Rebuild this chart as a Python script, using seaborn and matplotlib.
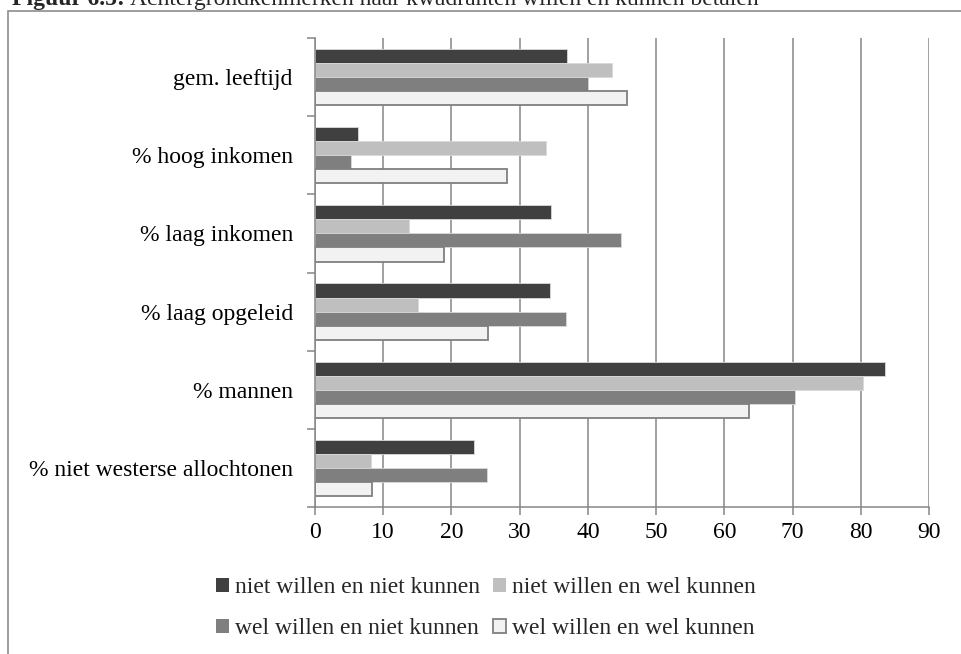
import pandas as pd
import matplotlib.pyplot as plt
import matplotlib.patches as mpatches
from matplotlib.ticker import FixedLocator
import seaborn as sns

# Data
kenmerken = ['gem. leeftijd', '% hoog inkomen', '% laag inkomen',
             '% laag opgeleid', '% mannen', '% niet westerse allochtonen']
groepen = ['niet willen en niet kunnen', 'niet willen en wel kunnen',
           'wel willen en niet kunnen', 'wel willen en wel kunnen']
niet_niet = [37.0, 6.3, 34.6, 34.5, 83.5, 23.3]
niet_wel = [43.5, 33.8, 13.8, 15.1, 80.3, 8.2]
wel_niet = [40.0, 5.3, 44.9, 36.8, 70.3, 25.2]
wel_wel = [45.7, 28.2, 18.9, 25.3, 63.6, 8.3]
xticks = [0, 10, 20, 30, 40, 50, 60, 70, 80, 90]

series = [niet_niet, niet_wel, wel_niet, wel_wel]
rows = []
for g, vals in zip(groepen, series):
    for k, v in zip(kenmerken, vals):
        rows.append({'kenmerk': k, 'groep': g, 'waarde': v})
df = pd.DataFrame(rows)

sns.set_theme(style='white')
plt.rcParams['font.family'] = ['Liberation Serif', 'DejaVu Serif']

colors = ['#404040', '#bfbfbf', '#7f7f7f', '#f2f2f2']
edges = ['#d9d9d9', '#d9d9d9', '#d9d9d9', '#7f7f7f']
edge_w = [0.6, 0.6, 0.6, 1.3]
grey = '#868686'
fs = 17

fig = plt.figure(figsize=(9.62, 6.54), dpi=100)
ax = fig.add_axes([315 / 962, 1 - 507 / 654, (929 - 315) / 962, (507 - 38) / 654])

sns.barplot(data=df, x='waarde', y='kenmerk', hue='groep', order=kenmerken,
            hue_order=groepen, palette=colors, orient='h', width=0.72,
            saturation=1, legend=False, ax=ax)

# Bar edges, Excel-like
for i, cont in enumerate(ax.containers):
    for p in cont:
        p.set_edgecolor(edges[i])
        p.set_linewidth(edge_w[i])

ax.set_xlim(0, 90)
ax.set_ylim(5.5, -0.5)
ax.set_xticks(xticks)
ax.set_xlabel('')
ax.set_ylabel('')

# Grid and axes
ax.set_axisbelow(True)
ax.xaxis.grid(True, color=grey, linewidth=1.1)
ax.yaxis.grid(False)
for s in ['top', 'right']:
    ax.spines[s].set_visible(False)
for s in ['left', 'bottom']:
    ax.spines[s].set_color(grey)
    ax.spines[s].set_linewidth(1.1)

ax.tick_params(axis='x', direction='out', length=6, width=1.1, color=grey,
               pad=5, labelsize=fs, labelcolor='black', bottom=True)
ax.tick_params(axis='y', which='major', length=0, pad=16, labelsize=fs,
               labelcolor='black')
ax.yaxis.set_minor_locator(FixedLocator([i - 0.5 for i in range(len(kenmerken) + 1)]))
ax.tick_params(axis='y', which='minor', direction='out', length=6, width=1.1,
               color=grey, left=True)

# Legend below the chart (row-wise order like the original)
handles = [mpatches.Patch(facecolor=c, edgecolor=e, linewidth=w if i == 3 else 0)
           for i, (c, e, w) in enumerate(zip(colors, edges, edge_w))]
order = [0, 2, 1, 3]
fig.legend([handles[i] for i in order], [groepen[i] for i in order],
           ncol=2, loc='upper left', bbox_to_anchor=(216 / 962, 1 - 577 / 654),
           bbox_transform=fig.transFigure, frameon=False, fontsize=fs,
           handlelength=0.55, handleheight=0.55, handletextpad=0.25,
           columnspacing=0.55, labelspacing=0.85, borderpad=0, borderaxespad=0)

# Outer frame of the figure box
frame = mpatches.Rectangle((8 / 962, -0.1), 1.2, 1 - 11 / 654 + 0.1,
                           transform=fig.transFigure, fill=False,
                           edgecolor='#8c8c8c', linewidth=1.2, clip_on=False)
fig.patches.append(frame)

# Cut-off caption at the top
t1 = fig.text(12 / 962, 1 - 5 / 654, 'Figuur 6.5:', fontsize=fs,
              fontweight='bold', va='baseline', ha='left')
fig.canvas.draw()
bb = t1.get_window_extent(renderer=fig.canvas.get_renderer())
fig.text(bb.x1 / fig.bbox.width + 5 / 962, 1 - 5 / 654,
         'Achtergrondkenmerken naar kwadranten willen en kunnen betalen',
         fontsize=fs, va='baseline', ha='left')

plt.savefig('out.png', dpi=100)
